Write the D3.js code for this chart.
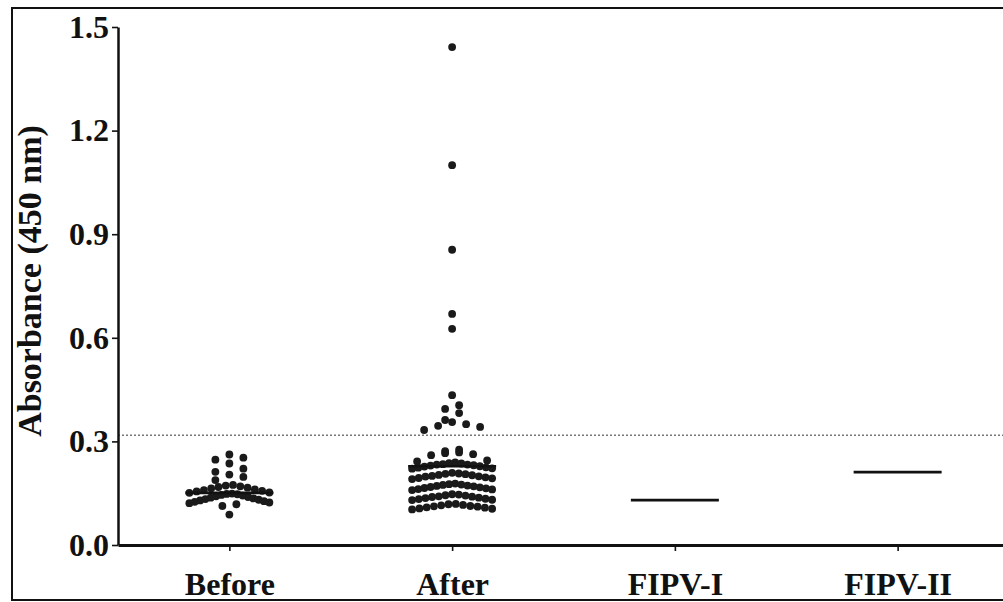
<!DOCTYPE html>
<html>
<head>
<meta charset="utf-8">
<script src="https://cdn.jsdelivr.net/npm/d3@7"></script>
<style>
  html, body { margin: 0; padding: 0; background: #fff; overflow: hidden; }
  svg { display: block; }
  text { font-family: "Liberation Serif", "Times New Roman", serif; font-weight: bold; fill: #111; }
</style>
</head>
<body>
<svg id="chart" width="1003" height="602"></svg>
<script>
// ---------- data ----------
const categories = ["Before", "After", "FIPV-I", "FIPV-II"];

const beforeValues = [
  0.262, 0.253, 0.247,
  0.236, 0.221, 0.212,
  0.204, 0.197, 0.188,
  0.174, 0.172, 0.170, 0.168, 0.166, 0.164, 0.161, 0.159, 0.157, 0.155, 0.152, 0.151,
  0.149, 0.148, 0.147, 0.145, 0.143, 0.141, 0.139, 0.137, 0.135, 0.133, 0.131, 0.129, 0.127, 0.125, 0.123, 0.121,
  0.118, 0.113,
  0.088
];

const afterValues = [
  1.442, 1.100, 0.855, 0.669, 0.626,
  0.434,
  0.405, 0.394,
  0.382, 0.362,
  0.356, 0.350, 0.345, 0.342, 0.333,
  0.276, 0.272,
  0.268, 0.266, 0.263, 0.260, 0.245, 0.242,
  0.239, 0.237, 0.236, 0.234, 0.233, 0.233, 0.231, 0.230, 0.228, 0.227, 0.225, 0.224, 0.222, 0.221,
  0.209, 0.207, 0.206, 0.205, 0.203, 0.202, 0.200, 0.199, 0.198, 0.196, 0.194, 0.193, 0.191,
  0.178, 0.176, 0.175, 0.174, 0.172, 0.171, 0.170, 0.168, 0.167, 0.165, 0.164, 0.162, 0.161, 0.159,
  0.147, 0.146, 0.144, 0.143, 0.141, 0.140, 0.139, 0.137, 0.136, 0.134, 0.133, 0.131, 0.130,
  0.119, 0.118, 0.116, 0.115, 0.113, 0.112, 0.111, 0.109, 0.108, 0.106, 0.105, 0.103
];

// horizontal summary line per group
const centerLines = [0.151, 0.228, 0.130, 0.211];
const cutoffValue = 0.318;
const yTicks = [0.0, 0.3, 0.6, 0.9, 1.2, 1.5];
const yLabel = "Absorbance (450 nm)";

// ---------- chart ----------
const svg = d3.select("#chart");

// outer frame (left, top, bottom; right side is cropped away)
svg.append("path")
  .attr("d", "M1003,8 H12 V600 H1003")
  .attr("fill", "none").attr("stroke", "#111").attr("stroke-width", 2);

const x = d3.scalePoint().domain(categories).range([118, 1009]).padding(0.5);
const y = d3.scaleLinear().domain([0, 1.5]).range([545, 27]);

// cutoff dotted line
svg.append("line")
  .attr("x1", 118).attr("x2", 1003)
  .attr("y1", y(cutoffValue)).attr("y2", y(cutoffValue))
  .attr("stroke", "#777").attr("stroke-width", 1.6)
  .attr("stroke-dasharray", "2,2");

// y axis
const yAxis = svg.append("g")
  .attr("transform", "translate(118,0)")
  .call(d3.axisLeft(y).tickValues(yTicks).tickFormat(d3.format(".1f"))
        .tickSize(6).tickSizeOuter(0).tickPadding(3));
yAxis.select(".domain").attr("stroke", "#111").attr("stroke-width", 2.5);
yAxis.selectAll(".tick line").attr("stroke", "#111").attr("stroke-width", 1.6);
yAxis.selectAll(".tick text").style("font-size", "32px").attr("fill", "#111");

// x axis
const xAxis = svg.append("g")
  .attr("transform", "translate(0,545)")
  .call(d3.axisBottom(x).tickSize(6).tickSizeOuter(0).tickPadding(21));
xAxis.select(".domain").attr("stroke", "#111").attr("stroke-width", 3);
xAxis.selectAll(".tick line").attr("stroke", "#111").attr("stroke-width", 1.6);
xAxis.selectAll(".tick text").style("font-size", "32px").attr("fill", "#111");

// y label
svg.append("text")
  .attr("transform", "translate(41,281) rotate(-90)")
  .attr("text-anchor", "middle")
  .style("font-size", "34px")
  .text(yLabel);

// column scatter layout
const binSize = 0.03, maxWidth = 80, maxStep = 14;
function scatterLayout(values, cx) {
  const bins = d3.groups(values, v => Math.floor(v / binSize + 1e-9));
  const pts = [];
  bins.forEach(([, vals]) => {
    const sorted = vals.slice().sort((a, b) => b - a);
    const n = sorted.length;
    const step = n > 1 ? Math.min(maxStep, maxWidth / (n - 1)) : 0;
    const pos = d3.range(n).map(i => (i - (n - 1) / 2) * step)
      .sort((a, b) => Math.abs(a) - Math.abs(b) || b - a);
    sorted.forEach((v, i) => pts.push({ v, x: cx + pos[i] }));
  });
  return pts;
}

const groupsData = [
  { cat: "Before", values: beforeValues },
  { cat: "After", values: afterValues }
];

const dots = svg.append("g");
groupsData.forEach(g => {
  const pts = scatterLayout(g.values, x(g.cat));
  dots.selectAll(null).data(pts).enter().append("circle")
    .attr("cx", d => d.x)
    .attr("cy", d => y(d.v))
    .attr("r", 3.9)
    .attr("fill", "#1a1a1a");
});

// center lines
svg.append("g").selectAll("line")
  .data(categories.map((c, i) => ({ c, v: centerLines[i] })))
  .enter().append("line")
  .attr("x1", d => x(d.c) - 44).attr("x2", d => x(d.c) + 44)
  .attr("y1", d => y(d.v)).attr("y2", d => y(d.v))
  .attr("stroke", "#111").attr("stroke-width", 2.6);
</script>
</body>
</html>
